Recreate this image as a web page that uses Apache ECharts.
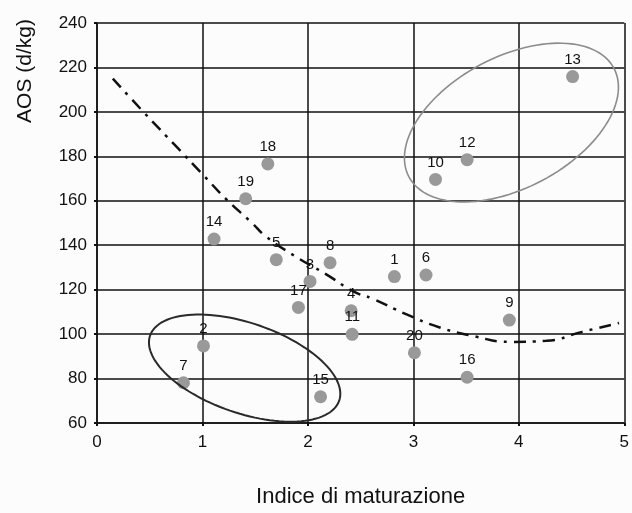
<!DOCTYPE html>
<html>
<head>
<meta charset="utf-8">
<script src="https://cdn.jsdelivr.net/npm/echarts@6/dist/echarts.min.js"></script>
<style>
html,body{margin:0;padding:0;background:#fcfcfc;}
#c{width:632px;height:513px;}
</style>
</head>
<body>
<div id="c"></div>
<script>
// Sample ids, x (Indice di maturazione), y (AOS d/kg)
var ids = ['1','2','3','4','5','6','7','8','9','10','11','12','13','14','15','16','17','18','19','20'];
var xVals = [2.82, 1.01, 2.02, 2.41, 1.70, 3.12, 0.82, 2.21, 3.91, 3.21, 2.42, 3.51, 4.51, 1.11, 2.12, 3.51, 1.91, 1.62, 1.41, 3.01];
var yVals = [125.9, 94.7, 123.7, 110.5, 133.5, 126.6, 78.1, 132.1, 106.3, 169.6, 99.9, 178.5, 215.9, 142.8, 71.8, 80.6, 112.0, 176.6, 160.9, 91.6];

// Trend curve
var trendX = [0.15, 0.44, 0.76, 1.0, 1.22, 1.47, 1.6, 1.88, 2.17, 2.44, 2.61, 2.93, 3.25, 3.58, 3.91, 4.26, 4.6, 4.95];
var trendY = [215, 200, 184, 172, 161, 150, 144, 135, 127, 119, 116, 109, 103, 99, 96.5, 97, 101, 105];

var xTicks = [0, 1, 2, 3, 4, 5];
var yTicks = [60, 80, 100, 120, 140, 160, 180, 200, 220, 240];

var pts = ids.map(function (id, i) { return [xVals[i], yVals[i], id]; });
var trend = trendX.map(function (x, i) { return [x, trendY[i]]; });

var chart = echarts.init(document.getElementById('c'));
var FONT = '"Liberation Sans", Arial, sans-serif';

chart.setOption({
  backgroundColor: '#fcfcfc',
  animation: false,
  grid: { left: 97, right: 3, top: 23, bottom: 82 },
  xAxis: {
    type: 'value', min: xTicks[0], max: xTicks[xTicks.length - 1], interval: 1,
    name: 'Indice di maturazione', nameLocation: 'middle', nameGap: 63,
    nameTextStyle: { fontFamily: FONT, fontSize: 22, color: '#111' },
    axisLine: { show: true, onZero: false, lineStyle: { color: '#111', width: 1.5 } },
    axisTick: { show: true, length: 3, lineStyle: { color: '#111', width: 2 } },
    axisLabel: { fontFamily: FONT, fontSize: 17, color: '#111', margin: 11 },
    splitLine: { show: true, lineStyle: { color: '#111', width: 1.5 } }
  },
  yAxis: {
    type: 'value', min: yTicks[0], max: yTicks[yTicks.length - 1], interval: 20,
    axisLine: { show: true, lineStyle: { color: '#111', width: 1.5 } },
    axisTick: { show: true, length: 3, lineStyle: { color: '#111', width: 2 } },
    axisLabel: { fontFamily: FONT, fontSize: 17, color: '#111', margin: 10 },
    splitLine: { show: true, lineStyle: { color: '#111', width: 1.5 } }
  },
  series: [
    {
      type: 'line', data: trend, smooth: true, symbol: 'none',
      lineStyle: { color: '#111', width: 2.5, type: [12, 7, 3, 7] },
      z: 3
    },
    {
      type: 'scatter', data: pts, symbolSize: 13,
      itemStyle: { color: '#999999', opacity: 1 },
      label: {
        show: true, position: 'top', distance: 3,
        formatter: function (p) { return p.data[2]; },
        fontFamily: FONT, fontSize: 15, color: '#111'
      },
      z: 4
    }
  ]
});

// Ellipse annotations: centre in data units, semi-axes in pixels, tilt in degrees
var ellipses = [
  { cx: 1.40, cy: 84.7, a: 100, b: 45, deg: 19, color: '#2a2a2a', w: 2 },
  { cx: 3.93, cy: 195.2, a: 116, b: 65.6, deg: -27.9, color: '#8c8c8c', w: 1.6 }
];
var graphics = ellipses.map(function (e) {
  var c = chart.convertToPixel({ gridIndex: 0 }, [e.cx, e.cy]);
  var th = e.deg * Math.PI / 180, pl = [];
  for (var k = 0; k <= 120; k++) {
    var t = k / 120 * Math.PI * 2;
    var ux = e.a * Math.cos(t), uy = e.b * Math.sin(t);
    pl.push([c[0] + ux * Math.cos(th) - uy * Math.sin(th), c[1] + ux * Math.sin(th) + uy * Math.cos(th)]);
  }
  return { type: 'polyline', shape: { points: pl }, style: { stroke: e.color, lineWidth: e.w, fill: null }, z: 10 };
});
graphics.push({
  type: 'text', x: 25, y: 71, rotation: Math.PI / 2,
  style: { text: 'AOS (d/kg)', fontFamily: FONT, fontSize: 21, fill: '#111', align: 'center', verticalAlign: 'middle' },
  z: 10
});
chart.setOption({ graphic: graphics });
</script>
</body>
</html>
